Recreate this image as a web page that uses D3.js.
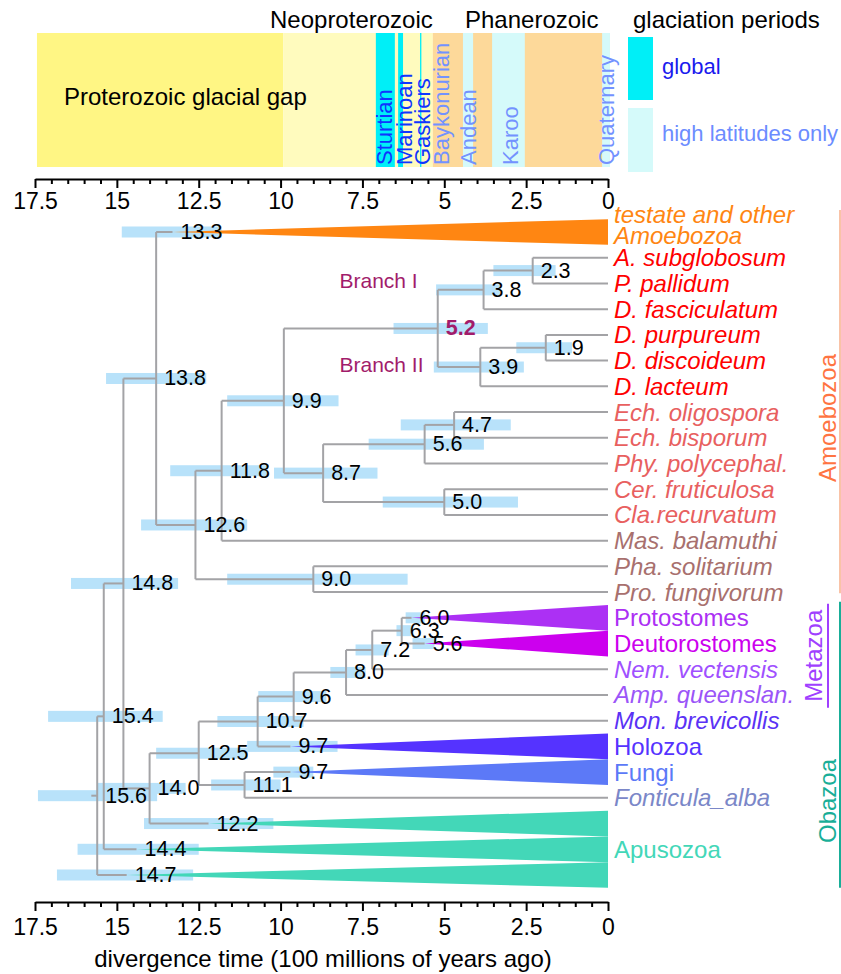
<!DOCTYPE html>
<html><head><meta charset="utf-8">
<script src="https://cdn.jsdelivr.net/npm/d3@7"></script>
<style>body{margin:0;background:#fff}svg{display:block;font-family:"Liberation Sans",Arial,sans-serif}</style>
</head><body><svg id="c" width="841" height="974"></svg>
<script>
// ---------------- DATA ----------------
const axisTicks = [17.5, 15, 12.5, 10, 7.5, 5, 2.5, 0];
const minorTicks = [17, 16.5, 16, 15.5, 14.5, 14, 13.5, 13, 12, 11.5, 11, 10.5, 9.5, 9, 8.5, 8, 7, 6.5, 6, 5.5, 4.5, 4, 3.5, 3, 2, 1.5, 1, 0.5];

const eraNames = ["gap", "neo", "phan"];
const eraFrom = [17.44, 9.92, 5.35];
const eraTo = [9.92, 5.35, -0.06];

const glacNames = ["Sturtian", "Marinoan", "Gaskiers", "Baykonurian", "Andean", "Karoo", "Quaternary"];
const glacType = ["global", "global", "global", "high", "high", "high", "high"];
const glacFrom = [7.09, 6.41, 5.74, null, 4.43, 3.54, 0.18];
const glacTo = [6.51, 6.26, 5.70, null, 4.12, 2.54, -0.06];
const glacLabelAt = [6.84, 6.23, 5.68, 5.07, 4.25, 2.99, 0.06];

const nodeIds = [
 "root","n15.4","n14.8","n13.8","testate","n12.6","n11.8","n9.9","n5.2","n3.8","n2.3",
 "A. subglobosum","P. pallidum","D. fasciculatum","n3.9","n1.9","D. purpureum","D. discoideum","D. lacteum",
 "n8.7","n5.6","n4.7","Ech. oligospora","Ech. bisporum","Phy. polycephal.","n5.0","Cer. fruticulosa","Cla.recurvatum",
 "Mas. balamuthi","n9.0","Pha. solitarium","Pro. fungivorum",
 "n14.0","n12.5","n10.7","n9.6","n8.0","n7.2","n6.3","Protostomes","Deutorostomes","Nem. vectensis","Amp. queenslan.",
 "Mon. brevicollis","Holozoa","n11.1","Fungi","Fonticula_alba","Apusozoa1","Apusozoa2","Apusozoa3"];
const nodeParents = [
 "","root","n15.4","n14.8","n13.8","n13.8","n12.6","n11.8","n9.9","n5.2","n3.8",
 "n2.3","n2.3","n3.8","n5.2","n3.9","n1.9","n1.9","n3.9",
 "n9.9","n8.7","n5.6","n4.7","n4.7","n5.6","n8.7","n5.0","n5.0",
 "n11.8","n12.6","n9.0","n9.0",
 "n14.8","n14.0","n12.5","n10.7","n9.6","n8.0","n7.2","n6.3","n6.3","n7.2","n8.0",
 "n9.6","n10.7","n12.5","n11.1","n11.1","n14.0","n15.4","root"];
const nodeAges = [
 15.6,15.4,14.8,13.8,13.3,12.6,11.8,9.9,5.2,3.8,2.3,
 0,0,0,3.9,1.9,0,0,0,
 8.7,5.6,4.7,0,0,0,5.0,0,0,
 0,9.0,0,0,
 14.0,12.5,10.7,9.6,8.0,7.2,6.3,6.0,5.6,0,0,
 0,9.7,11.1,9.7,0,12.2,14.4,14.7];
const ciOld = [
 17.41,17.1,16.4,15.33,14.85,14.26,13.37,11.63,6.55,5.25,3.5,
 null,null,null,5.32,2.8,null,null,null,
 10.2,7.31,6.33,null,null,null,6.88,null,null,
 null,11.63,null,null,
 15.58,13.8,11.93,10.68,8.48,7.71,6.46,6.18,5.97,null,null,
 null,11.02,12.12,10.22,null,14.17,16.2,16.83];
const ciYoung = [
 13.77,13.6,13.13,12.27,11.8,11.02,10.4,8.23,3.67,3.3,1.6,
 null,null,null,2.57,1.1,null,null,null,
 7.04,3.79,2.97,null,null,null,2.75,null,null,
 null,6.12,null,null,
 12.9,11.0,9.3,8.6,7.4,6.7,6.0,5.6,5.3,null,null,
 null,8.26,10.0,9.0,null,10.22,12.5,12.67];

const cladeLabels = {testate: ["testate and other", "Amoebozoa"], Protostomes: ["Protostomes"], Deutorostomes: ["Deutorostomes"],
  Holozoa: ["Holozoa"], Fungi: ["Fungi"], Apusozoa1: [], Apusozoa2: ["Apusozoa"], Apusozoa3: []};

const groupNames = ["Amoebozoa", "Metazoa", "Obazoa"];
const groupRowFrom = [-0.86, 14.45, 14.38];
const groupRowTo = [14.05, 18.5, 25.5];

// ---------------- STYLES ----------------
const eraColor = {gap: "#FFF684", neo: "#FFFBBE", phan: "#FDD99A"};
const glacColor = {global: "#00EFF7", high: "#D5FAFA"};
const glacTextColor = {global: "#1034FF", high: "#7392FF"};
const red = "#FF0000", salmon = "#E8605F", rosy = "#A8706E";
const leafColor = {
  testate: "#FF8612", "A. subglobosum": red, "P. pallidum": red, "D. fasciculatum": red, "D. purpureum": red,
  "D. discoideum": red, "D. lacteum": red, "Ech. oligospora": salmon, "Ech. bisporum": salmon, "Phy. polycephal.": salmon,
  "Cer. fruticulosa": salmon, "Cla.recurvatum": salmon, "Mas. balamuthi": rosy, "Pha. solitarium": rosy, "Pro. fungivorum": rosy,
  Protostomes: "#AC30F4", Deutorostomes: "#CC00EE", "Nem. vectensis": "#A050FF", "Amp. queenslan.": "#9B55F8",
  "Mon. brevicollis": "#5A32F5", Holozoa: "#5533FF", Fungi: "#5C79F7", Fonticula_alba: "#7B87C8",
  Apusozoa1: "#43D7B8", Apusozoa2: "#43D7B8", Apusozoa3: "#43D7B8"};
const groupColor = ["#FF7442", "#A040FF", "#19AE98"];
const groupLineColor = ["#F9C3A7", "#A040FF", "#19AE98"];
const groupTextX = [827, 813, 827];
const groupLineX = [840, 828, 840];

// ---------------- DRAW ----------------
const svg = d3.select("#c");
const x = d3.scaleLinear().domain([17.5, 0]).range([35, 608]);
const rowY = d3.scaleLinear().domain([0, 25]).range([232, 875]);

// banner
const bTop = 33, bBot = 167;
eraNames.forEach((n, i) => {
  svg.append("rect").attr("x", x(eraFrom[i])).attr("y", bTop)
    .attr("width", x(eraTo[i]) - x(eraFrom[i])).attr("height", bBot - bTop).attr("fill", eraColor[n]);
});
glacNames.forEach((n, i) => {
  if (glacFrom[i] !== null) {
    svg.append("rect").attr("x", x(glacFrom[i])).attr("y", bTop)
      .attr("width", Math.max(1, x(glacTo[i]) - x(glacFrom[i]))).attr("height", bBot - bTop)
      .attr("fill", glacColor[glacType[i]]);
  }
});
glacNames.forEach((n, i) => {
  svg.append("text").attr("transform", `translate(${x(glacLabelAt[i])},165) rotate(-90)`)
    .attr("dominant-baseline", "central").attr("font-size", 22).attr("fill", glacTextColor[glacType[i]]).text(n);
});
svg.append("text").attr("x", 64).attr("y", 105).attr("font-size", 24).text("Proterozoic glacial gap");
svg.append("text").attr("x", 270).attr("y", 28).attr("font-size", 24).text("Neoproterozoic");
svg.append("text").attr("x", 465).attr("y", 28).attr("font-size", 24).text("Phanerozoic");
svg.append("text").attr("x", 633).attr("y", 28).attr("font-size", 24).text("glaciation periods");
svg.append("rect").attr("x", 628).attr("y", 37).attr("width", 25).attr("height", 63).attr("fill", glacColor.global);
svg.append("rect").attr("x", 628).attr("y", 108).attr("width", 25).attr("height", 64).attr("fill", glacColor.high);
svg.append("text").attr("x", 662).attr("y", 74).attr("font-size", 22).attr("fill", "#1A1AEE").text("global");
svg.append("text").attr("x", 662).attr("y", 141).attr("font-size", 22).attr("fill", "#6C8CFF").text("high latitudes only");

// axes
function drawAxis(y0, labelY) {
  const gm = svg.append("g").attr("transform", `translate(0,${y0})`)
    .call(d3.axisBottom(x).tickValues(minorTicks).tickSize(5).tickSizeOuter(0).tickFormat(""));
  const g = svg.append("g").attr("transform", `translate(0,${y0})`)
    .call(d3.axisBottom(x).tickValues(axisTicks).tickSize(9).tickSizeOuter(0).tickFormat(d => String(d)));
  [gm, g].forEach(s => {
    s.attr("font-family", null).attr("font-size", null);
    s.selectAll("path,line").attr("stroke", "#000").attr("stroke-width", 2);
  });
  gm.select(".domain").remove();
  g.selectAll("text").attr("y", labelY).attr("dy", "0.35em").attr("font-size", 23).attr("fill", "#000");
}
drawAxis(179, 21.5);
drawAxis(902, 25);
svg.append("text").attr("x", 323).attr("y", 967).attr("text-anchor", "middle").attr("font-size", 24)
  .text("divergence time (100 millions of years ago)");

// tree
const table = nodeIds.map((id, i) => ({id, parent: nodeParents[i] || null, age: nodeAges[i], lo: ciOld[i], hi: ciYoung[i]}));
const root = d3.stratify().id(d => d.id).parentId(d => d.parent)(table);
root.leaves().forEach((l, i) => { l.row = i; l.y = rowY(i); });
root.eachAfter(n => {
  n.x = x(n.data.age);
  if (n.children) n.y = (n.children[0].y + n.children[n.children.length - 1].y) / 2;
});
const nodes = root.descendants();

// CI bars
svg.append("g").selectAll("rect").data(nodes.filter(n => n.data.lo !== null)).join("rect")
  .attr("x", n => x(n.data.lo)).attr("width", n => x(n.data.hi) - x(n.data.lo))
  .attr("y", n => n.y - 5.5).attr("height", 11).attr("fill", "#B8E2FA");

// branches
const lineCol = "#A3A3A6";
const lg = svg.append("g").attr("stroke", lineCol).attr("stroke-width", 2).attr("fill", "none");
nodes.forEach(n => {
  if (n.parent) lg.append("line").attr("x1", n.parent.x).attr("x2", n.x).attr("y1", n.y).attr("y2", n.y);
  if (n.children) lg.append("line").attr("x1", n.x).attr("x2", n.x)
    .attr("y1", n.children[0].y).attr("y2", n.children[n.children.length - 1].y);
});
lg.append("line").attr("x1", x(15.78)).attr("x2", root.x).attr("y1", root.y).attr("y2", root.y);

// collapsed clades (triangles)
const half = (rowY(1) - rowY(0)) / 2;
svg.append("g").selectAll("path").data(root.leaves().filter(l => l.data.age > 0)).join("path")
  .attr("d", l => `M${l.x},${l.y}L${x(0)},${l.y - half}L${x(0)},${l.y + half}Z`)
  .attr("fill", l => leafColor[l.id]);

// node age labels
svg.append("g").selectAll("text").data(nodes.filter(n => n.data.age > 0)).join("text")
  .attr("x", n => n.x + 8).attr("y", n => n.y).attr("dominant-baseline", "central")
  .attr("font-size", 21.5)
  .attr("font-weight", n => n.id === "n5.2" ? "bold" : null)
  .attr("fill", n => n.id === "n5.2" ? "#A21C6B" : "#000")
  .text(n => n.data.age.toFixed(1));

// leaf labels
root.leaves().forEach(l => {
  const isClade = l.data.age > 0;
  const lines = isClade ? cladeLabels[l.id] : [l.id];
  const italic = !isClade || l.id === "testate";
  lines.forEach((t, k) => {
    const dy = lines.length > 1 ? (k === 0 ? -18 : 3) : 0;
    svg.append("text").attr("x", 614).attr("y", l.y + dy).attr("dominant-baseline", "central")
      .attr("font-size", 24).attr("font-style", italic ? "italic" : null)
      .attr("fill", leafColor[l.id]).text(t);
  });
});

// branch annotations
svg.append("text").attr("x", x(8.2)).attr("y", 280).attr("dominant-baseline", "central")
  .attr("font-size", 21).attr("fill", "#A21C6B").text("Branch I");
svg.append("text").attr("x", x(8.2)).attr("y", 364).attr("dominant-baseline", "central")
  .attr("font-size", 21).attr("fill", "#A21C6B").text("Branch II");

// group brackets
groupNames.forEach((g, i) => {
  const y1 = rowY(groupRowFrom[i]), y2 = rowY(groupRowTo[i]);
  svg.append("line").attr("x1", groupLineX[i]).attr("x2", groupLineX[i]).attr("y1", y1).attr("y2", y2)
    .attr("stroke", groupLineColor[i]).attr("stroke-width", 2);
  const cy = i === 2 ? 801 : (i === 0 ? 418 : (y1 + y2) / 2);
  svg.append("text").attr("transform", `translate(${groupTextX[i]},${cy}) rotate(-90)`)
    .attr("text-anchor", "middle").attr("dominant-baseline", "central")
    .attr("font-size", 24).attr("fill", groupColor[i]).text(g);
});
</script></body></html>
